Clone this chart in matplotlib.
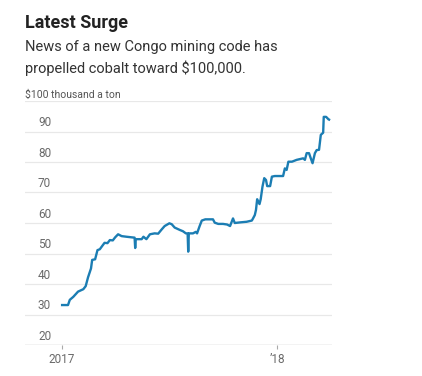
import matplotlib
matplotlib.use("Agg")
import matplotlib.pyplot as plt
from datetime import date

# cobalt price, $ thousand a ton
dates = [
    "2017-01-01", "2017-01-11", "2017-01-14", "2017-01-20", "2017-01-28",
    "2017-02-06", "2017-02-10", "2017-02-14", "2017-02-19", "2017-02-21",
    "2017-02-26", "2017-03-02", "2017-03-06", "2017-03-09", "2017-03-14",
    "2017-03-19", "2017-03-23", "2017-03-28", "2017-04-01", "2017-04-06",
    "2017-04-12", "2017-04-20", "2017-04-29", "2017-05-04", "2017-05-05",
    "2017-05-06", "2017-05-16", "2017-05-19", "2017-05-24", "2017-05-30",
    "2017-06-07", "2017-06-13", "2017-06-19", "2017-06-24", "2017-07-02",
    "2017-07-06", "2017-07-11", "2017-07-20", "2017-07-25", "2017-07-30",
    "2017-08-02", "2017-08-03", "2017-08-04", "2017-08-11", "2017-08-16",
    "2017-08-18", "2017-08-22", "2017-08-26", "2017-09-01", "2017-09-14",
    "2017-09-17", "2017-09-23", "2017-10-01", "2017-10-08", "2017-10-13",
    "2017-10-18", "2017-10-21", "2017-10-30", "2017-11-10", "2017-11-19",
    "2017-11-21", "2017-11-24", "2017-11-26", "2017-11-28", "2017-12-02",
    "2017-12-04", "2017-12-07", "2017-12-10", "2017-12-13", "2017-12-15",
    "2017-12-20", "2017-12-23", "2017-12-28", "2018-01-11", "2018-01-14",
    "2018-01-17", "2018-01-20", "2018-01-26", "2018-02-03", "2018-02-14",
    "2018-02-17", "2018-02-20", "2018-02-24", "2018-02-27", "2018-03-02",
    "2018-03-06", "2018-03-09", "2018-03-13", "2018-03-16", "2018-03-20",
    "2018-03-21", "2018-03-25", "2018-03-29", "2018-03-30",
]
prices = [
    33.1, 33.1, 34.8, 35.8, 37.5,
    38.3, 39.3, 42.2, 45.1, 47.9,
    48.1, 51.1, 51.4, 52.2, 53.5,
    53.4, 54.4, 54.3, 55.3, 56.3,
    55.7, 55.5, 55.3, 55.2, 51.8,
    54.7, 54.7, 55.5, 54.7, 56.3,
    56.6, 56.5, 57.9, 59.0, 59.9,
    59.6, 58.5, 57.7, 57.3, 56.6,
    56.6, 50.6, 56.6, 56.6, 57.1,
    56.6, 58.8, 60.8, 61.2, 61.2,
    60.1, 59.7, 59.7, 59.5, 59.0,
    61.5, 60.0, 60.2, 60.4, 60.8,
    61.5, 62.6, 64.3, 67.8, 66.2,
    67.8, 71.9, 74.7, 74.1, 72.1,
    72.1, 75.2, 75.4, 75.4, 77.9,
    77.4, 80.1, 80.1, 80.7, 81.2,
    80.7, 82.9, 82.9, 81.2, 79.6,
    82.9, 83.9, 84.0, 88.9, 89.6,
    94.8, 94.8, 94.0, 93.9,
]
y_ticks = [20, 30, 40, 50, 60, 70, 80, 90, 100]
x_ticks = [date(2017, 1, 1), date(2018, 1, 1)]
x_labels = ["2017", "\u201918"]

x = [date.fromisoformat(d) for d in dates]

plt.rcParams["font.family"] = ["Roboto", "DejaVu Sans"]
grey = "#6a6a6a"

fig = plt.figure(figsize=(4.22, 3.76), dpi=100)
ax = fig.add_axes([25 / 422, 31 / 376, 307 / 422, 244 / 376])

for v in y_ticks:
    if v == 20:
        ax.axhline(v, color="#c4c4c4", lw=1.0, zorder=1)
    else:
        ax.axhline(v, color="#e8e8e8", lw=0.9, zorder=1)
    if v <= 90:
        ax.text(date(2016, 11, 21), v + 0.7, str(v), fontsize=8.5,
                color=grey, va="bottom", ha="left")

ax.plot(x, prices, color="#1b7db3", lw=1.7, zorder=3)

ax.set_xlim(date(2016, 10, 30), date(2018, 4, 4))
ax.set_ylim(20, 100)
for s in ax.spines.values():
    s.set_visible(False)
ax.set_yticks([])
ax.set_xticks(x_ticks)
ax.set_xticklabels(x_labels, fontsize=8.5, color=grey)
ax.tick_params(axis="x", length=3, width=0.8, color="#aaaaaa", pad=3)

fig.text(25 / 422, 1 - 23 / 376, "Latest Surge", fontsize=13,
         fontweight="bold", color="#222222", va="center", ha="left")
fig.text(25 / 422, 1 - 47 / 376, "News of a new Congo mining code has",
         fontsize=10.5, color="#333333", va="center", ha="left")
fig.text(25 / 422, 1 - 68 / 376, "propelled cobalt toward $100,000.",
         fontsize=10.5, color="#333333", va="center", ha="left")
fig.text(25 / 422, 1 - 95 / 376, "$100 thousand a ton", fontsize=7.5,
         color="#555555", va="center", ha="left")

fig.savefig("out.png", dpi=100, facecolor="white")
